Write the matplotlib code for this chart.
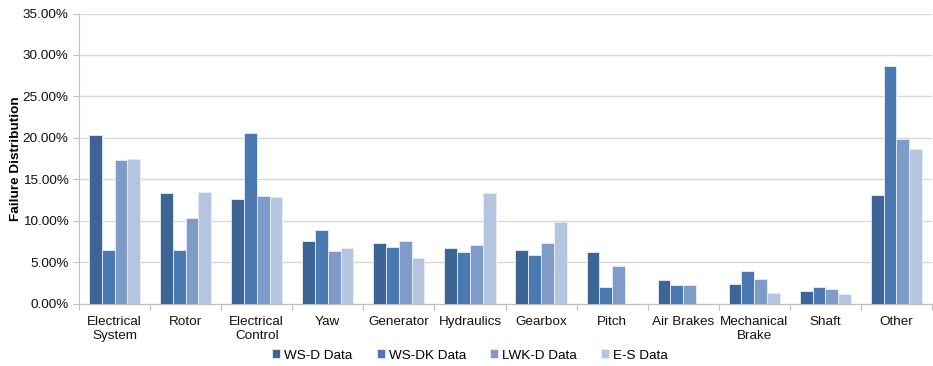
import numpy as np
import matplotlib
matplotlib.use("Agg")
import matplotlib.pyplot as plt
from matplotlib.ticker import FuncFormatter, MultipleLocator

plt.rcParams['font.family'] = ['Liberation Sans', 'DejaVu Sans']

categories = ["Electrical\nSystem", "Rotor", "Electrical\nControl", "Yaw", "Generator",
              "Hydraulics", "Gearbox", "Pitch", "Air Brakes", "Mechanical\nBrake",
              "Shaft", "Other"]
series_names = ["WS-D Data", "WS-DK Data", "LWK-D Data", "E-S Data"]
ws_d = [20.35, 13.3, 12.65, 7.5, 7.3, 6.66, 6.46, 6.22, 2.85, 2.33, 1.49, 13.1]
ws_dk = [6.5, 6.5, 20.55, 8.9, 6.86, 6.22, 5.86, 1.97, 2.29, 3.97, 2.05, 28.7]
lwk_d = [17.34, 10.32, 12.97, 6.3, 7.55, 7.1, 7.3, 4.54, 2.2, 3.01, 1.73, 19.9]
e_s = [17.5, 13.45, 12.89, 6.7, 5.54, 13.33, 9.84, 0.0, 0.0, 1.24, 1.12, 18.63]
colors = ["#3C6495", "#4A78B1", "#7F9CC9", "#B5C4DF"]

fig = plt.figure(figsize=(9.33, 3.66), dpi=100)
ax = fig.add_axes([79 / 933, 1 - 303.5 / 366, 853 / 933, 290 / 366])

x = np.arange(len(categories))
w = 0.18
for i, (vals, c, name) in enumerate(zip([ws_d, ws_dk, lwk_d, e_s], colors, series_names)):
    ax.bar(x + (i - 1.5) * w, vals, width=w, color=c, edgecolor="#E8ECF4",
           linewidth=0.6, label=name, zorder=3)

ax.set_xlim(-0.5, len(categories) - 0.5)
ax.set_ylim(0, 35)
ax.yaxis.set_major_locator(MultipleLocator(5))
ax.yaxis.set_major_formatter(FuncFormatter(lambda v, p: f"{v:.2f}%"))
ax.grid(axis="y", color="#D9D9D9", linewidth=1.0, zorder=0)

ax.set_xticks(x)
ax.set_xticklabels(categories, fontsize=9.7, color="#111111", linespacing=1.2)
ax.tick_params(axis="x", length=0, pad=9)
ax.set_xticks(np.arange(-0.5, len(categories)), minor=True)
ax.tick_params(axis="x", which="minor", length=4, color="#BFBFBF", width=0.8)
ax.tick_params(axis="y", labelsize=9.7, length=4, color="#BFBFBF", width=0.8,
               labelcolor="#111111")

for s in ["top", "right"]:
    ax.spines[s].set_visible(False)
for s in ["left", "bottom"]:
    ax.spines[s].set_color("#BFBFBF")
    ax.spines[s].set_linewidth(0.8)

ax.set_ylabel("Failure Distribution", fontsize=9.7, fontweight="bold", labelpad=0)
ax.yaxis.set_label_coords(-57 / 853, 0.5)

leg = fig.legend(loc="center", bbox_to_anchor=(470 / 933, 1 - 355.5 / 366), ncol=4,
                 frameon=False, fontsize=9.7, handlelength=0.6, handleheight=0.6,
                 handletextpad=0.3, columnspacing=1.8)

fig.savefig("out.png", dpi=100)
